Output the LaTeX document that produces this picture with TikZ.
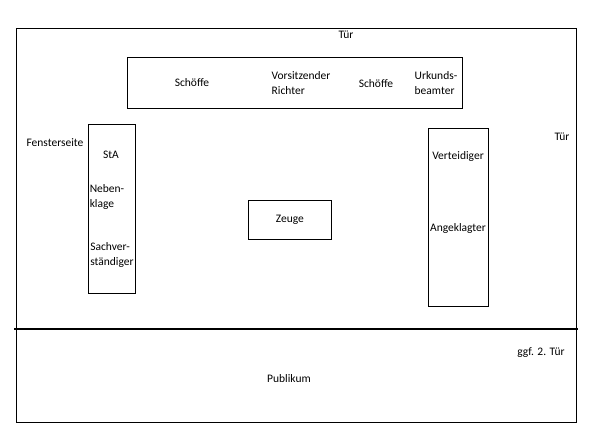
\documentclass[tikz,border=0pt]{standalone}
\usepackage{fontspec}
\setmainfont{Carlito}
\usetikzlibrary{positioning}

\begin{document}
\begin{tikzpicture}[
  x=1pt, y=-1pt,
  frame/.style={draw=black, line width=0.9pt, anchor=north west, inner sep=0pt},
  lbl/.style={font=\fontsize{11.5}{14.5}\selectfont, inner sep=0pt, align=left},
  divider/.style={draw=black, line width=1.6pt}
]
  \useasboundingbox (0,0) rectangle (590,442);

  \node[frame, minimum width=560pt, minimum height=394pt] (room) at (16,28) {};
  \node[frame, minimum width=335pt, minimum height=51pt] (bench) at (127,57) {};
  \node[frame, minimum width=47pt, minimum height=169pt] (left) at (88,124) {};
  \node[frame, minimum width=60pt, minimum height=178pt] (right) at (428,128) {};
  \node[frame, minimum width=83pt, minimum height=39pt, font=\fontsize{11.5}{14.5}\selectfont] (zeuge) at (248,200) {Zeuge};

  \coordinate (divL) at (14,329);
  \coordinate (divR) at (578,329);
  \draw[divider] (divL) -- (divR);

  \node[lbl] (doorTop) at (346,35) {Tür};
  \node[lbl] (doorRight) at (562,137) {Tür};
  \node[lbl] (door2) at (541,353) {ggf. 2. Tür};
  \node[lbl] (window) at (55,143) {Fensterseite};
  \node[lbl] (public) at (289,379) {Publikum};

  \node[lbl] (schoeffeA) at (192,83) {Schöffe};
  \node[lbl] (vorsitz) at (301,83) {Vorsitzender\\Richter};
  \node[lbl] (schoeffeB) at (376,84) {Schöffe};
  \node[lbl] (urkund) at (436,83) {Urkunds-\\beamter};

  \node[lbl] (sta) at (111,155) {StA};
  \node[lbl] (neben) at (107,197) {Neben-\\klage};
  \node[lbl] (sachv) at (112,255) {Sachver-\\ständiger};

  \node[lbl] (verteid) at (458,156) {Verteidiger};
  \node[lbl] (angekl) at (458,228) {Angeklagter};
\end{tikzpicture}
\end{document}
